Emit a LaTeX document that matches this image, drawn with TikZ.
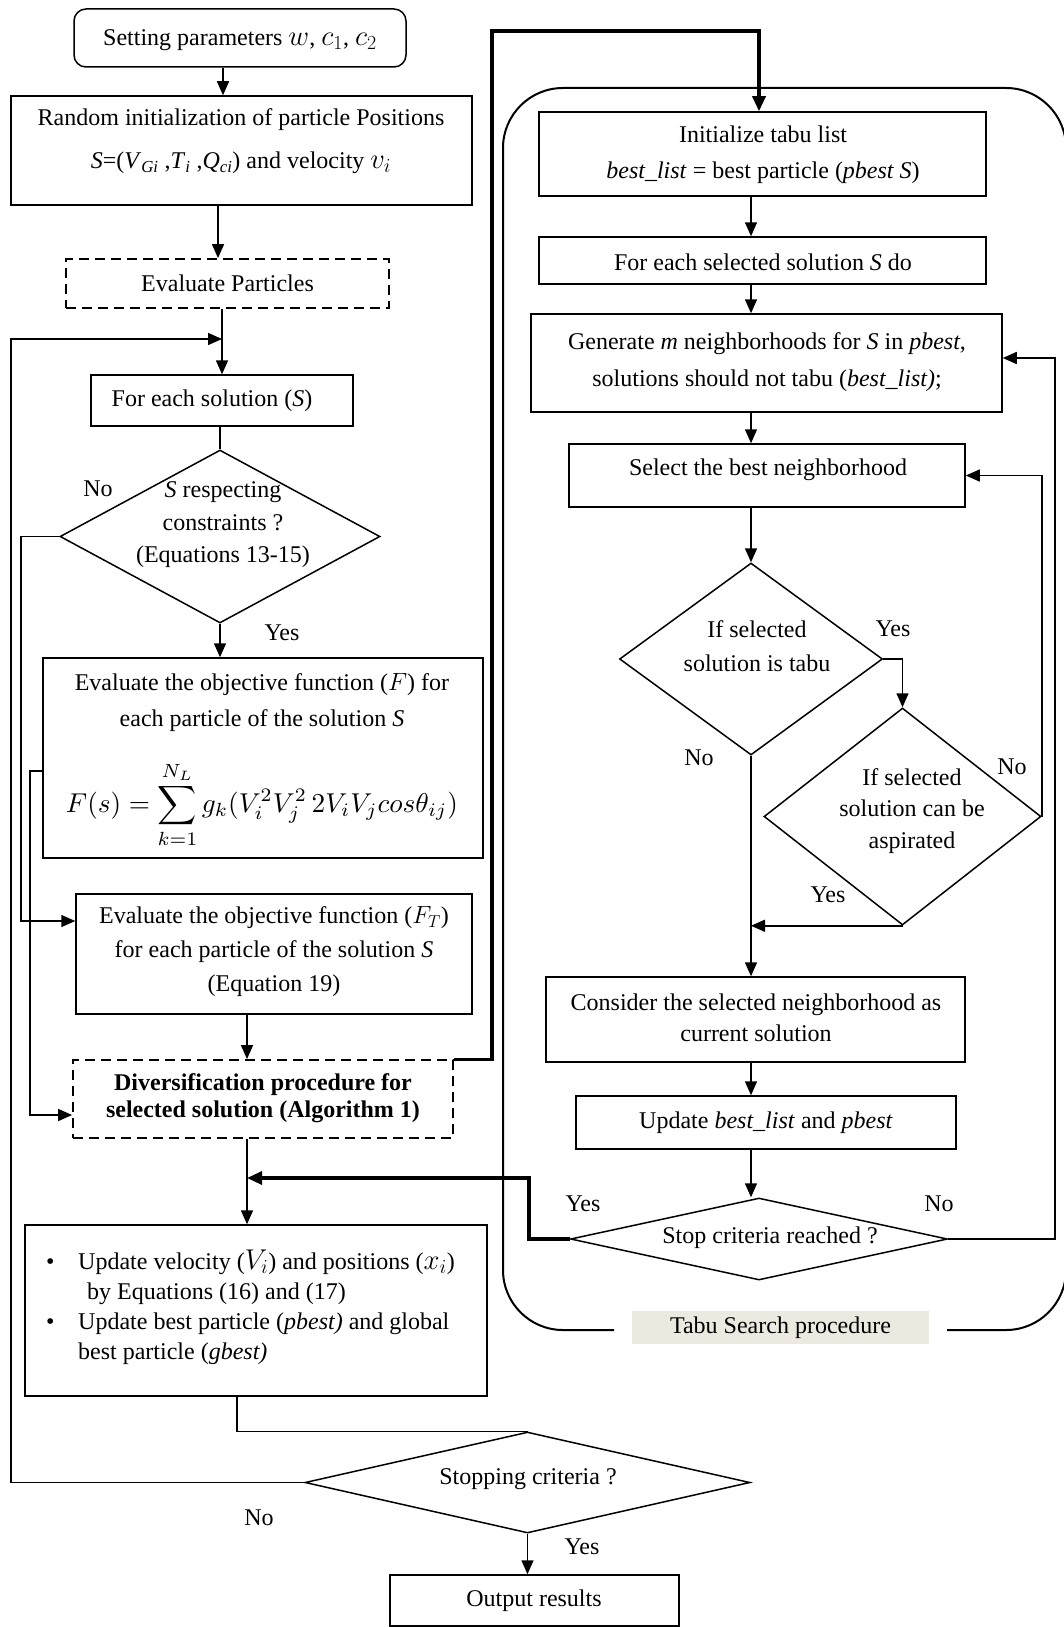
\documentclass[tikz,border=0pt]{standalone}
\usepackage{fontspec}
\setmainfont{Liberation Serif}
\usepackage{graphicx}
\usetikzlibrary{arrows.meta,shapes.geometric}
\definecolor{tabubg}{HTML}{ECEAE0}
\begin{document}
\begin{tikzpicture}[x=1pt,y=-1pt,
  box/.style={draw, line width=1.5pt, rectangle, inner sep=0pt},
  dbox/.style={box, dash pattern=on 10pt off 6pt},
  dia/.style={draw, line width=1.5pt, diamond, inner sep=0pt},
  txt/.style={align=center, inner sep=0pt, font=\fontsize{24}{34}\selectfont},
  lab/.style={inner sep=0pt, font=\fontsize{24}{28}\selectfont},
  conn/.style={line width=1.5pt},
  arr/.style={conn, -{Triangle[length=14pt,width=12pt]}},
  heavy/.style={line width=3.2pt},
  harr/.style={heavy, -{Triangle[length=15pt,width=13pt]}}
]
\useasboundingbox (0,0) rectangle (1063,1627);

% column coordinates
\coordinate (a1) at (223,0);
\coordinate (a2) at (218,0);
\coordinate (a3) at (222,0);
\coordinate (a4) at (247,0);
\coordinate (a5) at (237,0);
\coordinate (a6) at (759,0);
\coordinate (a7) at (751,0);
\coordinate (n1) at (21,921);
\coordinate (n2) at (30,771);
\coordinate (n3) at (30,1115);
\coordinate (n4) at (11,339);
\coordinate (n5) at (1055,358);
\coordinate (h1) at (492,31);
\coordinate (h2) at (529,1178);

% ---------------- left column ----------------
\node[box, rounded corners=12pt, minimum width=332pt, minimum height=58pt] (set) at (240,38) {};
\node[txt] (setT) at (240,40) {Setting parameters \scalebox{1.15}{$w$}, \scalebox{1.15}{$c_1$}, \scalebox{1.15}{$c_2$}};

\node[box, minimum width=461pt, minimum height=109pt] (rand) at (241.5,150.5) {};
\node[txt, font=\fontsize{24}{43}\selectfont] (randT) at (241,141) {Random initialization of particle Positions\\
  \textit{S}=(\textit{V}\textsubscript{\textit{Gi}} ,\textit{T}\textsubscript{\textit{i}} ,\textit{Q}\textsubscript{\textit{ci}}) and velocity \scalebox{1.15}{$v_i$}};

\node[dbox, line width=1.8pt, minimum width=323pt, minimum height=49pt] (evalP) at (227.5,283.5) {};
\node[txt] (evalPT) at (227.5,283) {Evaluate Particles};

\node[box, minimum width=262pt, minimum height=51pt] (foreach) at (222,400.5) {};
\node[txt] (foreachT) at (212,401) {For each solution (\textit{S})};

\node[dia, minimum width=320pt, minimum height=173pt] (d1) at (220,536.5) {};
\node[txt, font=\fontsize{24}{32.5}\selectfont] (d1T) at (223,525) {\textit{S} respecting\\constraints ?\\(Equations 13-15)};

\node[box, minimum width=440pt, minimum height=200pt] (evalF) at (263,758) {};
\node[txt, font=\fontsize{24}{36}\selectfont] (evalFT1) at (262,703) {Evaluate the objective function ($F$) for\\each particle of the solution \textit{S}};
\node[inner sep=0pt] (formula) at (262,805) {\resizebox{392pt}{!}{$\displaystyle F(s)=\sum_{k=1}^{N_L} g_k(V_i^2V_j^2\,2V_iV_jcos\theta_{ij})$}};

\node[box, minimum width=396pt, minimum height=120pt] (evalFT) at (274,954) {};
\node[txt, font=\fontsize{24}{34}\selectfont] (evalFTT) at (274,952) {Evaluate the objective function ($F_T$)\\for each particle of the solution \textit{S}\\(Equation 19)};

\node[dbox, line width=1.8pt, minimum width=380pt, minimum height=78pt] (divers) at (263,1099) {};
\node[txt, font=\fontsize{24}{27}\selectfont\bfseries] (diversT) at (263,1098) {Diversification procedure for\\selected solution (Algorithm 1)};

\node[box, minimum width=462pt, minimum height=171pt] (update) at (256,1310.5) {};
\node[inner sep=0pt, anchor=west, align=left, font=\fontsize{24}{30}\selectfont] (updateT) at (42,1307) {%
  \makebox[36pt][l]{\hspace*{4pt}\textbullet}Update velocity (\scalebox{1.15}{$V_i$}) and positions (\scalebox{1.15}{$x_i$})\\
  \hspace*{45pt}by Equations (16) and (17)\\
  \makebox[36pt][l]{\hspace*{4pt}\textbullet}Update best particle (\textit{pbest)} and global\\
  \hspace*{36pt}best particle (\textit{gbest)}};

\node[dia, minimum width=445pt, minimum height=101pt] (stopc) at (527.5,1482.5) {};
\node[txt] (stopcT) at (528,1479) {Stopping criteria ?};

\node[box, minimum width=289pt, minimum height=51pt] (output) at (534.5,1600.5) {};
\node[txt] (outputT) at (534,1601) {Output results};

% ---------------- tabu region ----------------
\draw[line width=2pt, rounded corners=60pt] (614,1330) -- (503,1330) -- (503,88) -- (1066,88) -- (1066,1330) -- (947,1330);
\node[fill=tabubg, minimum width=297pt, minimum height=33pt, inner sep=0pt, font=\fontsize{24}{28}\selectfont] (tabuL) at (780.5,1327.5) {Tabu Search procedure};

\node[box, minimum width=447pt, minimum height=84pt] (init) at (762.5,154) {};
\node[txt, font=\fontsize{24}{36}\selectfont] (initT) at (763,155) {Initialize tabu list\\\textit{best\_list} = best particle (\textit{pbest S})};

\node[box, minimum width=447pt, minimum height=47pt] (forsel) at (762.5,260.5) {};
\node[txt] (forselT) at (763,262) {For each selected solution \textit{S} do};

\node[box, minimum width=471pt, minimum height=98pt] (gen) at (766.5,363) {};
\node[txt, font=\fontsize{24}{37}\selectfont] (genT) at (767,362) {Generate \textit{m} neighborhoods for \textit{S} in \textit{pbest},\\solutions should not tabu (\textit{best\_list)};};

\node[box, minimum width=396pt, minimum height=63pt] (select) at (767,475.5) {};
\node[txt] (selectT) at (768,470) {Select the best neighborhood};

\node[dia, minimum width=263pt, minimum height=192pt] (tabu) at (751,659) {};
\node[txt, font=\fontsize{24}{34}\selectfont] (tabuT) at (757,646) {If selected\\solution is tabu};

\node[dia, minimum width=277pt, minimum height=217pt] (asp) at (902.5,816.5) {};
\node[txt, font=\fontsize{24}{31.5}\selectfont] (aspT) at (912,811) {If selected\\solution can be\\aspirated};

\node[box, minimum width=419pt, minimum height=85pt] (consider) at (755.5,1019.5) {};
\node[txt, font=\fontsize{24}{31}\selectfont] (considerT) at (756,1018) {Consider the selected neighborhood as\\current solution};

\node[box, minimum width=380pt, minimum height=53pt] (upd) at (766,1122.5) {};
\node[txt] (updT) at (766,1123) {Update \textit{best\_list} and \textit{pbest}};

\node[dia, minimum width=377pt, minimum height=82pt] (stop) at (759,1239) {};
\node[txt] (stopT) at (770,1238) {Stop criteria reached ?};

% ---------------- connectors, left ----------------
\draw[arr] (set.south -| a1) -- (rand.north -| a1);
\draw[arr] (rand.south -| a2) -- (evalP.north -| a2);
\draw[arr] (evalP.south -| a3) -- (foreach.north -| a3);
\draw[conn] (foreach.south -| d1.north) -- (d1.north);
\draw[arr] (d1.south) -- (d1.south |- evalF.north);
\draw[arr] (d1.west) -| (n1) -- (evalFT.west |- n1);
\draw[arr] (evalF.west |- n2) -- (n2) -- (n3) -- (divers.west |- n3);
\draw[arr] (evalFT.south -| a4) -- (divers.north -| a4);
\draw[arr] (divers.south -| a4) -- (update.north -| a4);
\draw[conn] (update.south -| a5) -- (a5 |- stopc.north) -- (stopc.north);
\draw[arr] (stopc.south) -- (stopc.south |- output.north);
\draw[arr] (stopc.west) -| (n4) -- (a3 |- n4);

% ---------------- connectors, right ----------------
\draw[harr] (divers.north east) -- (divers.north east -| h1) -- (h1) -- (h1 -| a6) -- (init.north -| a6);
\draw[arr] (init.south -| a7) -- (forsel.north -| a7);
\draw[arr] (forsel.south -| a7) -- (gen.north -| a7);
\draw[arr] (gen.south -| a7) -- (select.north -| a7);
\draw[arr] (select.south -| tabu.north) -- (tabu.north);
\draw[arr] (tabu.east) -| (asp.north);
\draw[arr] (asp.east) |- (select.east);
\draw[arr] (asp.south) -- (asp.south -| a7);
\draw[arr] (tabu.south) -- (tabu.south |- consider.north);
\draw[arr] (consider.south -| a7) -- (upd.north -| a7);
\draw[arr] (upd.south -| a7) -- (a7 |- stop.north);
\draw[arr] (stop.east) -| (n5) -- (gen.east |- n5);
\draw[harr] (stop.west) -- (stop.west -| h2) -- (h2) -- (a4 |- h2);

% ---------------- labels ----------------
\node[lab] (l1) at (98,489) {No};
\node[lab] (l2) at (282,633) {Yes};
\node[lab] (l3) at (893,629) {Yes};
\node[lab] (l4) at (699,758) {No};
\node[lab] (l5) at (1012,767) {No};
\node[lab] (l6) at (828,895) {Yes};
\node[lab] (l7) at (583,1204) {Yes};
\node[lab] (l8) at (939,1204) {No};
\node[lab] (l9) at (259,1518) {No};
\node[lab] (l10) at (582,1547) {Yes};
\end{tikzpicture}
\end{document}
